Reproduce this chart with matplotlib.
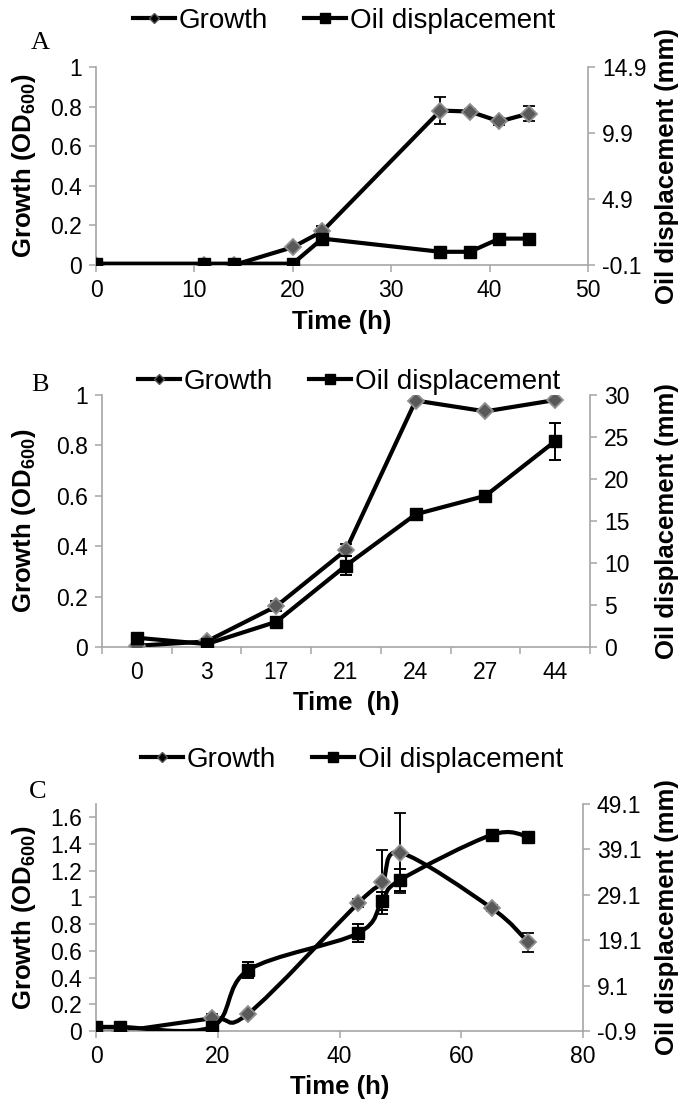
import matplotlib
matplotlib.use("Agg")
import matplotlib.pyplot as plt
from matplotlib.path import Path
from matplotlib.patches import PathPatch
from matplotlib.lines import Line2D
from matplotlib.ticker import FuncFormatter

plt.rcParams['font.family'] = ['Liberation Sans', 'DejaVu Sans']
plt.rcParams['mathtext.default'] = 'regular'

# ---- panel A ----
a_time = [0, 11, 14, 20, 23, 35, 38, 41, 44]
a_growth = [0.0, 0.0, 0.0, 0.09, 0.17, 0.78, 0.775, 0.725, 0.765]
a_growth_err = [0, 0, 0, 0.01, 0.025, 0.07, 0.012, 0.018, 0.04]
a_oil = [0.0, 0.0, 0.0, 0.0, 1.9, 0.9, 0.9, 1.9, 1.9]

# ---- panel B (categorical time axis) ----
b_time = ['0', '3', '17', '21', '24', '27', '44']
b_growth = [0.005, 0.022, 0.162, 0.385, 0.978, 0.935, 0.98]
b_growth_err = [0.005, 0.01, 0.02, 0.025, 0.005, 0.008, 0.005]
b_oil = [1.1, 0.35, 3.0, 9.7, 15.8, 18.0, 24.5]
b_oil_err = [0.3, 0.2, 0.6, 1.1, 0.6, 0.3, 2.2]

# ---- panel C ----
c_time = [0, 4, 19, 25, 43, 47, 50, 65, 71]
c_growth = [0.005, 0.0, 0.095, 0.13, 0.955, 1.115, 1.335, 0.92, 0.665]
c_growth_err = [0.005, 0.005, 0.03, 0.015, 0.03, 0.24, 0.30, 0.02, 0.07]
c_oil = [0.0, 0.0, 0.0, 12.5, 20.6, 27.8, 32.4, 42.3, 41.9]
c_oil_err = [0, 0, 0.3, 1.8, 2.0, 2.0, 2.4, 0.3, 0.4]

W, H = 681, 1102
GRAY = '#a6a6a6'


def box(l, r, t, b):
    return [l / W, 1 - b / H, (r - l) / W, (b - t) / H]


def fx(px):
    return px / W


def fy(px):
    return 1 - px / H


def smooth_path(xs, ys):
    # excel style smoothed line: cubic bezier through every point
    pts = list(zip(xs, ys))
    n = len(pts)
    verts = [pts[0]]
    codes = [Path.MOVETO]
    for i in range(n - 1):
        p0 = pts[i - 1] if i > 0 else pts[i]
        p1 = pts[i]
        p2 = pts[i + 1]
        p3 = pts[i + 2] if i + 2 < n else pts[i + 1]
        c1 = (p1[0] + (p2[0] - p0[0]) / 6, p1[1] + (p2[1] - p0[1]) / 6)
        c2 = (p2[0] - (p3[0] - p1[0]) / 6, p2[1] - (p3[1] - p1[1]) / 6)
        verts += [c1, c2, p2]
        codes += [Path.CURVE4] * 3
    return Path(verts, codes)


def style(ax, ax2):
    for s in ['top', 'right']:
        ax.spines[s].set_visible(False)
    for s in ['top', 'left', 'bottom']:
        ax2.spines[s].set_visible(False)
    for sp in [ax.spines['left'], ax.spines['bottom'], ax2.spines['right']]:
        sp.set_color(GRAY)
        sp.set_linewidth(1.2)
    for a in (ax, ax2):
        a.tick_params(direction='out', color=GRAY, length=5, width=1.1,
                      labelsize=16.5, pad=5)
    ax.yaxis.set_major_formatter(FuncFormatter(lambda v, p: '%g' % round(v, 2)))
    ax2.yaxis.set_major_formatter(FuncFormatter(lambda v, p: '%g' % round(v, 2)))


def draw(ax, ax2, x, g, gerr, oil, oerr, smooth=False):
    if smooth:
        ax.add_patch(PathPatch(smooth_path(x, g), fill=False, lw=3, ec='black', zorder=2))
        ax2.add_patch(PathPatch(smooth_path(x, oil), fill=False, lw=3, ec='black', zorder=2))
        ls = 'none'
    else:
        ls = '-'
    ax.errorbar(x, g, yerr=gerr, color='black', lw=3, ls=ls, ecolor='black',
                elinewidth=1.4, capsize=4.5, capthick=1.4, marker='D', ms=8,
                mfc='#595959', mec='#8f8f8f', mew=1.3, zorder=3)
    ax2.errorbar(x, oil, yerr=oerr, color='black', lw=3, ls=ls, ecolor='black',
                 elinewidth=1.4, capsize=4.5, capthick=1.4, marker='s', ms=8.5,
                 mfc='black', mec='black', zorder=3)


def legend(ax, xc, yc):
    h1 = Line2D([], [], color='black', lw=3, marker='D', ms=5.5, mfc='black', mec='#555555')
    h2 = Line2D([], [], color='black', lw=3, marker='s', ms=7, mfc='black', mec='black')
    ax.legend([h1, h2], ['Growth', 'Oil displacement'], loc='center',
              bbox_to_anchor=(fx(xc), fy(yc)), bbox_transform=ax.figure.transFigure,
              ncol=2, frameon=False, handlelength=1.5, handletextpad=0.15,
              columnspacing=1.3, prop={'size': 20})


fig = plt.figure(figsize=(W / 100, H / 100), dpi=100)

# ---------- A ----------
axA = fig.add_axes(box(96, 588, 67, 265))
axA2 = axA.twinx()
draw(axA, axA2, a_time, a_growth, a_growth_err, a_oil, [0] * len(a_oil))
axA.set_xlim(0, 50)
axA.set_ylim(0, 1)
axA.set_xticks([0, 10, 20, 30, 40, 50])
axA.set_yticks([0, 0.2, 0.4, 0.6, 0.8, 1])
axA2.set_ylim(-0.1, 14.9)
axA2.set_yticks([-0.1, 4.9, 9.9, 14.9])
style(axA, axA2)
legend(axA2, 344, 21)

# ---------- B ----------
axB = fig.add_axes(box(102, 590, 395, 647))
axB2 = axB.twinx()
bx = list(range(len(b_time)))
draw(axB, axB2, bx, b_growth, b_growth_err, b_oil, b_oil_err)
axB.set_xlim(-0.5, len(b_time) - 0.5)
axB.set_ylim(0, 1)
axB.set_yticks([0, 0.2, 0.4, 0.6, 0.8, 1])
axB2.set_ylim(0, 30)
axB2.set_yticks([0, 5, 10, 15, 20, 25, 30])
style(axB, axB2)
axB.set_xticks([i - 0.5 for i in range(len(b_time) + 1)])
axB.set_xticklabels([])
axB.set_xticks(bx, minor=True)
axB.set_xticklabels(b_time, minor=True)
axB.tick_params(axis='x', which='minor', length=0, labelsize=16.5, pad=10)
legend(axB2, 349, 382)

# ---------- C ----------
axC = fig.add_axes(box(96, 583, 804, 1031))
axC2 = axC.twinx()
draw(axC, axC2, c_time, c_growth, c_growth_err, c_oil, c_oil_err, smooth=True)
axC.set_xlim(0, 80)
axC.set_ylim(0, 1.7)
axC.set_xticks([0, 20, 40, 60, 80])
axC.set_yticks([0, 0.2, 0.4, 0.6, 0.8, 1, 1.2, 1.4, 1.6])
axC2.set_ylim(-0.9, 49.1)
axC2.set_yticks([-0.9, 9.1, 19.1, 29.1, 39.1, 49.1])
style(axC, axC2)
legend(axC2, 352, 760)

# ---------- labels ----------
lab = dict(weight='bold', size=18.5, ha='center', va='center')
for top, bot, ty, tx, ttxt in [(67, 265, 322, 342, 'Time (h)'),
                               (395, 647, 703, 346, 'Time  (h)'),
                               (804, 1031, 1087, 340, 'Time (h)')]:
    yc = (top + bot) / 2
    fig.text(fx(24), fy(yc), 'Growth (OD$_{600}$)', rotation=90, **lab)
    fig.text(fx(667), fy(yc), 'Oil displacement (mm)', rotation=90, **lab)
    fig.text(fx(tx), fy(ty), ttxt, **dict(lab, size=18.5))

serif = dict(family=['Liberation Serif', 'DejaVu Serif'], size=19, ha='center', va='center')
fig.text(fx(40), fy(43), 'A', **serif)
fig.text(fx(40), fy(385), 'B', **serif)
fig.text(fx(38), fy(792), 'C', **serif)

fig.savefig('out.png', dpi=100)
